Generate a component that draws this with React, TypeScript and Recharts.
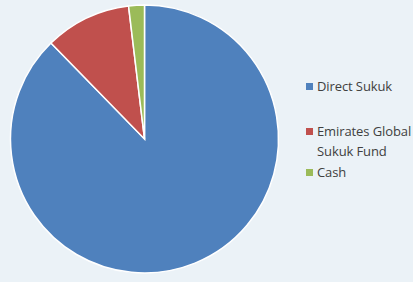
import { PieChart, Pie, Cell, Legend } from 'recharts';

const categories = ['Direct Sukuk', 'Emirates Global Sukuk Fund', 'Cash'];
const values = [87.7, 10.4, 1.9];
const legendLines = [['Direct Sukuk'], ['Emirates Global', 'Sukuk Fund'], ['Cash']];

const colors = ['#4F81BD', '#C0504D', '#9BBB59'];
const itemGaps = [0, 25, 1];

const data = categories.map((name, i) => ({ name, value: values[i] }));

function LegendBox() {
  return (
    <div style={{ fontFamily: '"Open Sans", sans-serif', fontSize: 13, letterSpacing: -0.1, color: '#404040', lineHeight: '20px', whiteSpace: 'nowrap' }}>
      {legendLines.map((lines, i) => (
        <div key={i} style={{ display: 'flex', alignItems: 'flex-start', marginTop: itemGaps[i] }}>
          <span style={{ width: 7, height: 7, background: colors[i], marginTop: 7, marginRight: 4, flexShrink: 0 }} />
          <div>
            {lines.map((l) => (
              <div key={l}>{l}</div>
            ))}
          </div>
        </div>
      ))}
    </div>
  );
}

export default function App() {
  return (
    <div style={{ position: 'fixed', left: 0, top: 0, width: 413, height: 282, background: '#EBF2F7' }}>
      <PieChart width={413} height={282} margin={{ top: 0, right: 0, bottom: 0, left: 0 }}>
        <Pie
          data={data}
          dataKey="value"
          nameKey="name"
          cx={144.5}
          cy={139}
          outerRadius={134}
          startAngle={90}
          endAngle={-270}
          stroke="#ffffff"
          strokeWidth={1.5}
          isAnimationActive={false}
        >
          {data.map((d, i) => (
            <Cell key={d.name} fill={colors[i]} />
          ))}
        </Pie>
        <Legend
          layout="vertical"
          content={() => <LegendBox />}
          wrapperStyle={{ left: 306, top: 76, width: 107 }}
        />
      </PieChart>
    </div>
  );
}
